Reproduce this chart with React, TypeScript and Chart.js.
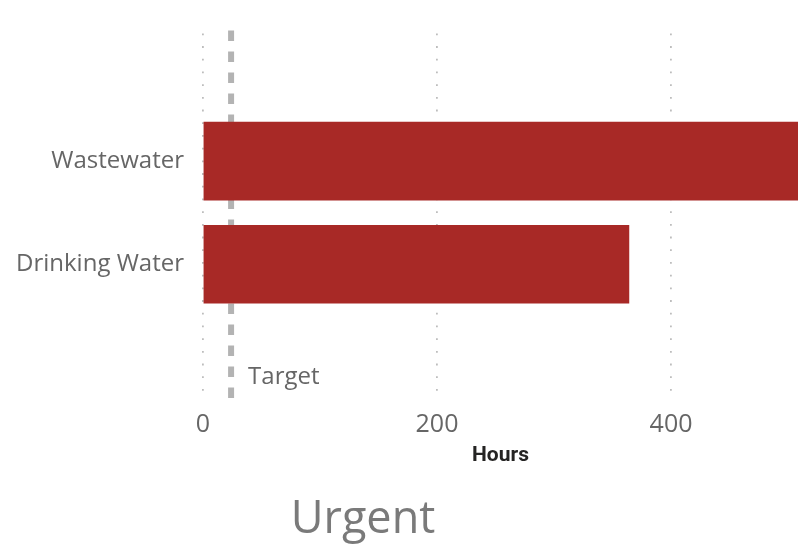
import React, { useEffect, useRef } from "react";
import { Chart, registerables } from "chart.js";

Chart.register(...registerables);

const categories = ["Wastewater", "Drinking Water"];
const hours = [508.5, 364];
const targetHours = 24;
const xTicks = [0, 200, 400];
const xMax = 508.5;
const titleText = "Urgent";
const axisTitle = "Hours";
const targetLabel = "Target";

const FONT = "'Segoe UI', 'Open Sans', 'Noto Sans', sans-serif";
const TEXT = "#666666";

export default function App() {
  const ref = useRef<HTMLCanvasElement | null>(null);

  useEffect(() => {
    if (!ref.current) return;

    const overlay = {
      id: "overlay",
      beforeDatasetsDraw(chart: any) {
        const { ctx, chartArea, scales } = chart;
        const x = scales.x.getPixelForValue(targetHours);
        ctx.save();
        ctx.strokeStyle = "#b3b3b3";
        ctx.lineWidth = 6;
        ctx.setLineDash([10.5, 10.5]);
        ctx.beginPath();
        ctx.moveTo(x, chartArea.top - 3);
        ctx.lineTo(x, chartArea.bottom);
        ctx.stroke();
        ctx.restore();
      },
      afterDraw(chart: any) {
        const { ctx, chartArea, scales } = chart;
        const x = scales.x.getPixelForValue(targetHours);
        ctx.save();
        ctx.fillStyle = TEXT;
        ctx.font = `24px ${FONT}`;
        ctx.textAlign = "left";
        ctx.textBaseline = "middle";
        ctx.fillText(targetLabel, x + 17, chartArea.bottom - 23);
        ctx.fillStyle = "#7a7a7a";
        ctx.font = `45px ${FONT}`;
        ctx.textAlign = "center";
        ctx.fillText(titleText, 363, 520);
        ctx.restore();
      },
    };

    const chart = new Chart(ref.current, {
      type: "bar",
      data: {
        datasets: [
          {
            data: categories.map((c, i) => ({ x: hours[i], y: i + 1 })),
            backgroundColor: "#a82926",
            borderWidth: 0,
            barThickness: 78,
          },
        ],
      },
      options: {
        indexAxis: "y",
        animation: false,
        responsive: false,
        layout: { padding: { top: 30, right: 13, bottom: 78, left: 0 } },
        plugins: { legend: { display: false }, tooltip: { enabled: false } },
        scales: {
          x: {
            type: "linear",
            min: 0,
            max: xMax,
            offset: false,
            afterFit(scale: any) {
              scale.height = 68;
            },
            afterBuildTicks(scale: any) {
              scale.ticks = xTicks.map((v) => ({ value: v }));
            },
            ticks: {
              includeBounds: false,
              color: TEXT,
              font: { family: FONT, size: 25 },
              padding: 10,
              maxRotation: 0,
            },
            grid: {
              color: "#bdbdbd",
              lineWidth: 1.8,
              drawTicks: false,
              offset: false,
            },
            border: { display: false, dash: [1.8, 10.9] },
            title: {
              display: true,
              text: axisTitle,
              color: "#252423",
              font: { family: "Roboto, 'DejaVu Sans', sans-serif", size: 21, weight: "bold" },
              padding: { top: 0, bottom: 0 },
            },
          },
          y: {
            type: "linear",
            reverse: true,
            offset: false,
            bounds: "data",
            min: -0.24,
            max: 3.317,
            afterFit(scale: any) {
              scale.width = 203;
            },
            afterBuildTicks(scale: any) {
              scale.ticks = categories.map((_, i) => ({ value: i + 1 }));
            },
            ticks: {
              autoSkip: false,
              color: TEXT,
              font: { family: FONT, size: 24 },
              padding: 19,
              callback: (v: any) => categories[Number(v) - 1] ?? "",
            },
            grid: { display: false, drawTicks: false, offset: false },
            border: { display: false },
          },
        },
      },
      plugins: [overlay],
    } as any);

    return () => chart.destroy();
  }, []);

  return (
    <div style={{ position: "fixed", left: 0, top: 0, width: 811, height: 546, background: "#fff" }}>
      <canvas ref={ref} width={811} height={546} />
    </div>
  );
}
